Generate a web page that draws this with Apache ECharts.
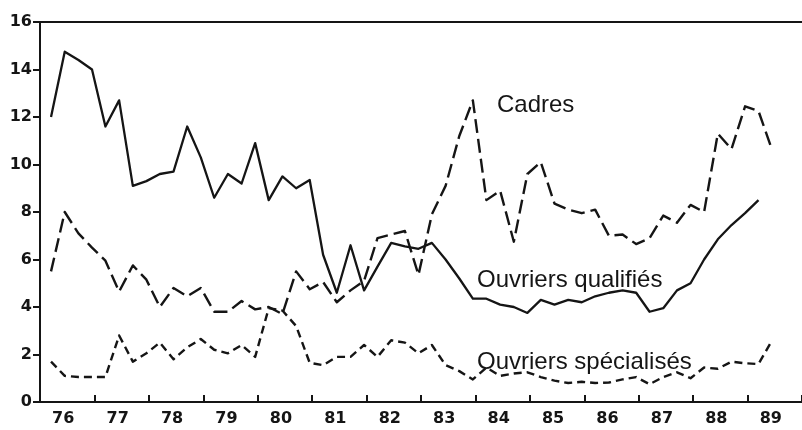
<!DOCTYPE html>
<html>
<head>
<meta charset="utf-8">
<script src="https://cdn.jsdelivr.net/npm/echarts@6/dist/echarts.min.js"></script>
<style>
  html, body { margin: 0; padding: 0; background: #ffffff; }
  #chart { width: 802px; height: 430px; }
</style>
</head>
<body>
<div id="chart"></div>
<script>
// Year labels shown under the axis, one per year interval
const yearLabels = ['76', '77', '78', '79', '80', '81', '82', '83', '84', '85', '86', '87', '88', '89'];

// Quarterly surveys: March, June, September, December of each year
const surveyYears = [1976, 1977, 1978, 1979, 1980, 1981, 1982, 1983, 1984, 1985, 1986, 1987, 1988, 1989];
const surveyMonths = ['03', '06', '09', '12'];

// Cadres (long dashes), March 1976 to June 1989
const cadres = [
  5.5, 8.0, 7.1, 6.5, 5.95, 4.65, 5.75, 5.15, 4.0, 4.8,
  4.45, 4.8, 3.8, 3.8, 4.25, 3.9, 4.0, 3.7, 5.5, 4.75,
  5.05, 4.2, 4.7, 5.1, 6.9, 7.05, 7.2, 5.35, 7.9, 9.1,
  11.2, 12.7, 8.5, 8.9, 6.75, 9.6, 10.1, 8.35, 8.1, 7.95,
  8.1, 7.0, 7.05, 6.65, 6.9, 7.85, 7.55, 8.3, 8.0, 11.3,
  10.65, 12.45, 12.25, 10.6
];

// Ouvriers qualifiés (solid), March 1976 to March 1989
const qualifies = [
  12.0, 14.75, 14.4, 14.0, 11.6, 12.7, 9.1, 9.3, 9.6, 9.7,
  11.6, 10.3, 8.6, 9.6, 9.2, 10.9, 8.5, 9.5, 9.0, 9.35,
  6.2, 4.6, 6.6, 4.7, 5.7, 6.7, 6.55, 6.45, 6.7, 6.0,
  5.2, 4.35, 4.35, 4.1, 4.0, 3.75, 4.3, 4.1, 4.3, 4.2,
  4.45, 4.6, 4.7, 4.6, 3.8, 3.95, 4.7, 5.0, 6.0, 6.85,
  7.45, 7.95, 8.5
];

// Ouvriers spécialisés (short dashes), March 1976 to June 1989
const specialises = [
  1.7, 1.1, 1.05, 1.05, 1.05, 2.8, 1.7, 2.05, 2.5, 1.8,
  2.3, 2.65, 2.2, 2.05, 2.4, 1.9, 3.95, 3.85, 3.2, 1.65,
  1.55, 1.9, 1.9, 2.4, 1.9, 2.6, 2.5, 2.05, 2.4, 1.55,
  1.3, 0.95, 1.45, 1.1, 1.2, 1.25, 1.05, 0.9, 0.8, 0.85,
  0.8, 0.82, 0.95, 1.05, 0.75, 1.05, 1.25, 1.0, 1.45, 1.4,
  1.7, 1.63, 1.6, 2.6
];

// Curve captions
const captionCadres = 'Cadres';
const captionQualifies = 'Ouvriers qualifiés';
const captionSpecialises = 'Ouvriers spécialisés';

// Survey dates (mid-month), in order
const surveyDates = [];
surveyYears.forEach(function (y) {
  surveyMonths.forEach(function (m) { surveyDates.push(y + '-' + m + '-15'); });
});

function pairUp(values) {
  return values.map(function (v, i) { return [surveyDates[i], v]; });
}

const INK = '#151515';
const tickFont = { fontFamily: 'DejaVu Sans', fontWeight: 'bold', fontSize: 16, color: INK };
const captionFont = 'normal 24px "Liberation Sans", Arial, sans-serif';

const chart = echarts.init(document.getElementById('chart'), null, { renderer: 'canvas' });

chart.setOption({
  animation: false,
  backgroundColor: '#ffffff',
  grid: {
    left: 40, right: -3, top: 22, bottom: 28, show: false
  },
  xAxis: [
    {
      type: 'category',
      data: yearLabels,
      boundaryGap: true,
      axisLine: { show: true, lineStyle: { color: INK, width: 2 } },
      axisTick: { show: true, inside: true, length: 7, interval: 0, lineStyle: { color: INK, width: 2 } },
      axisLabel: Object.assign({ margin: 9, interval: 0, padding: [0, 8, 0, 0] }, tickFont),
      splitLine: { show: false }
    },
    {
      type: 'time',
      min: '1976-01-01',
      max: '1990-01-01',
      show: false
    },
    {
      // top frame line
      type: 'category',
      data: yearLabels,
      position: 'top',
      axisLine: { show: true, lineStyle: { color: INK, width: 2 } },
      axisTick: { show: false },
      axisLabel: { show: false },
      splitLine: { show: false }
    }
  ],
  yAxis: [
    {
      type: 'value',
      min: 0, max: 16, interval: 2,
      axisLine: { show: true, lineStyle: { color: INK, width: 2 } },
      axisTick: { show: true, inside: false, length: 7, lineStyle: { color: INK, width: 2 } },
      axisLabel: Object.assign({ margin: 8 }, tickFont),
      splitLine: { show: false }
    },
    {
      // faint right frame edge
      type: 'value',
      min: 0, max: 16, interval: 2,
      position: 'right',
      axisLine: { show: true, lineStyle: { color: '#d4d4d4', width: 1 } },
      axisTick: { show: false },
      axisLabel: { show: false },
      splitLine: { show: false }
    }
  ],
  series: [
    {
      name: captionQualifies, type: 'line', xAxisIndex: 1,
      data: pairUp(qualifies), symbol: 'none', smooth: false,
      lineStyle: { color: INK, width: 2.3, type: 'solid', join: 'round' }
    },
    {
      name: captionCadres, type: 'line', xAxisIndex: 1,
      data: pairUp(cadres), symbol: 'none', smooth: false,
      lineStyle: { color: INK, width: 2.4, type: [14, 6], join: 'round' }
    },
    {
      name: captionSpecialises, type: 'line', xAxisIndex: 1,
      data: pairUp(specialises), symbol: 'none', smooth: false,
      lineStyle: { color: INK, width: 2.4, type: [8, 5], join: 'round' }
    }
  ],
  graphic: [
    { type: 'text', x: 497, y: 105, style: { text: captionCadres, font: captionFont, fill: INK, verticalAlign: 'middle' } },
    { type: 'text', x: 477, y: 280, style: { text: captionQualifies, font: captionFont, fill: INK, verticalAlign: 'middle' } },
    { type: 'text', x: 477, y: 362, style: { text: captionSpecialises, font: captionFont, fill: INK, verticalAlign: 'middle' } }
  ]
});
</script>
</body>
</html>
